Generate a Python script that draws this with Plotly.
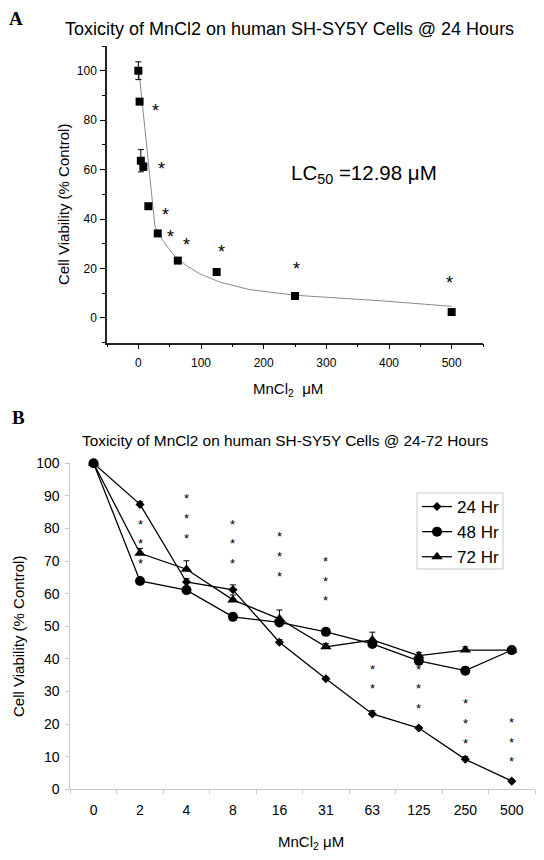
import plotly.graph_objects as go

W, H = 544, 860

# ---------------- Panel A data ----------------
conc_a = [0, 2, 4, 8, 16, 31, 63, 125, 250, 500]
via_a = [100, 87.5, 63.6, 61.2, 45.2, 34.2, 23.2, 18.6, 8.9, 2.4]
err_a = [3.6, 0.8, 4.5, 1.5, 1.0, 0.5, 1.0, 0.5, 0.8, 0.5]
fit_x = [1, 5.9, 12.3, 20.3, 26.6, 40, 54.7, 75, 97, 130, 177, 250, 390, 500]
fit_y = [100, 88, 74.6, 54.4, 36.9, 31, 26, 21.5, 18, 14.5, 11.5, 9.2, 6.9, 4.7]
star_ax = [26.6, 36.7, 43, 52, 76.6, 133.5, 253, 496]
star_ay = [85.2, 61.8, 43.3, 34.3, 31.2, 28.3, 21.6, 15.7]

# ---------------- Panel B data ----------------
cats_b = ["0", "2", "4", "8", "16", "31", "63", "125", "250", "500"]
v24 = [100, 87.4, 63.6, 61.2, 45.1, 33.9, 23.1, 18.8, 9.2, 2.5]
v48 = [100, 63.9, 61.1, 52.9, 51.2, 48.3, 44.6, 39.4, 36.4, 42.7]
v72 = [100, 72.4, 67.5, 58.1, 52.3, 43.7, 45.8, 41.0, 42.7, 42.7]
e24 = [0, 0.8, 1.0, 1.5, 0.8, 0.5, 1.0, 0.5, 0.8, 0.5]
e48 = [0, 0.5, 0.5, 0.5, 0.5, 0.5, 1.0, 0.8, 0.5, 0.5]
e72 = [0, 1.5, 2.6, 1.5, 2.7, 1.0, 2.4, 1.0, 1.0, 0.5]
star_bx = ["2", "2", "2", "4", "4", "4", "8", "8", "8", "16", "16", "16",
           "31", "31", "31", "63", "63", "125", "125", "125",
           "250", "250", "250", "500", "500", "500"]
star_by = [82.3, 76.3, 70.3, 90, 84, 77.9, 82.3, 76.3, 70.3, 78.5, 72.4, 66.3,
           70.9, 64.7, 58.8, 37.7, 31.7, 37.6, 31.7, 25.6,
           27.1, 21.1, 15.1, 21.3, 15.3, 9.3]

FONT = "Liberation Sans, Arial, sans-serif"
SERIF = "Liberation Serif, Times New Roman, serif"

fig = go.Figure()

# Panel A
fig.add_trace(go.Scatter(x=fit_x, y=fit_y, mode="lines", line=dict(color="#8a8a8a", width=1),
                         xaxis="x", yaxis="y", showlegend=False, hoverinfo="skip"))
fig.add_trace(go.Scatter(x=conc_a, y=via_a, mode="markers",
                         marker=dict(symbol="square", size=8, color="black"),
                         error_y=dict(type="data", array=err_a, color="black", thickness=1, width=3),
                         xaxis="x", yaxis="y", showlegend=False, cliponaxis=False))

# Panel B
fig.add_trace(go.Scatter(x=cats_b, y=v24, mode="lines+markers", name="24 Hr",
                         line=dict(color="black", width=1.3),
                         marker=dict(symbol="diamond", size=7, color="black"),
                         error_y=dict(type="data", array=e24, arrayminus=[0] * 10, symmetric=False,
                                      color="black", thickness=1, width=3),
                         xaxis="x2", yaxis="y2", cliponaxis=False))
fig.add_trace(go.Scatter(x=cats_b, y=v48, mode="lines+markers", name="48 Hr",
                         line=dict(color="black", width=1.3),
                         marker=dict(symbol="circle", size=10, color="black"),
                         error_y=dict(type="data", array=e48, arrayminus=[0] * 10, symmetric=False,
                                      color="black", thickness=1, width=3),
                         xaxis="x2", yaxis="y2", cliponaxis=False))
fig.add_trace(go.Scatter(x=cats_b, y=v72, mode="lines+markers", name="72 Hr",
                         line=dict(color="black", width=1.3),
                         marker=dict(symbol="triangle-up", size=10, color="black"),
                         error_y=dict(type="data", array=e72, arrayminus=[0] * 10, symmetric=False,
                                      color="black", thickness=1, width=3),
                         xaxis="x2", yaxis="y2", cliponaxis=False))

# page offset of the plot div (browser default body margin)
OX, OY = 8, 8


def px_x(p):
    return (p - OX) / W


def px_y(p):
    return 1 - (p - OY) / H


fig.update_layout(
    width=W, height=H,
    margin=dict(l=0, r=0, t=0, b=0, autoexpand=False),
    paper_bgcolor="white", plot_bgcolor="white",
    font=dict(family=FONT, color="black"),
    xaxis=dict(domain=[px_x(107), px_x(483)], anchor="y", range=[-50, 550], automargin=False,
               tickvals=[0, 100, 200, 300, 400, 500], ticks="outside", ticklen=5, tickwidth=1,
               minor=dict(tickvals=[-50, 50, 150, 250, 350, 450, 550], ticks="outside", ticklen=3,
                          tickcolor="black", tickwidth=1),
               showline=True, linecolor="#222", linewidth=1.5, showgrid=False, zeroline=False,
               tickfont=dict(size=12), tickcolor="black", ticklabelstandoff=3),
    yaxis=dict(domain=[px_y(342.7), px_y(46)], anchor="x", range=[-10, 110], automargin=False,
               tickvals=[0, 20, 40, 60, 80, 100], ticks="outside", ticklen=5, tickwidth=1,
               minor=dict(tickvals=[-10, 10, 30, 50, 70, 90, 110], ticks="outside", ticklen=3,
                          tickcolor="black", tickwidth=1),
               showline=True, linecolor="#222", linewidth=1.5, showgrid=False, zeroline=False,
               tickfont=dict(size=12), tickcolor="black", ticklabelstandoff=1),
    xaxis2=dict(domain=[px_x(70.3), px_x(535)], anchor="y2", type="category", automargin=False,
                categoryorder="array", categoryarray=cats_b, range=[-0.5, 9.5],
                ticks="outside", ticklen=4, tickcolor="#c8c8c8", tickson="boundaries",
                showline=True, linecolor="#c8c8c8", linewidth=1, showgrid=False, zeroline=False,
                tickfont=dict(size=14), ticklabelstandoff=8),
    yaxis2=dict(domain=[px_y(789.3), px_y(463.3)], anchor="x2", range=[0, 100], dtick=10, automargin=False,
                ticks="outside", ticklen=4, tickcolor="#c8c8c8",
                showline=True, linecolor="#c8c8c8", linewidth=1, showgrid=False, zeroline=False,
                tickfont=dict(size=14), ticklabelstandoff=3),
    legend=dict(x=px_x(417), y=px_y(489), xanchor="left", yanchor="top",
                borderwidth=0, bgcolor="rgba(0,0,0,0)",
                font=dict(size=17), tracegroupgap=0, itemwidth=30),
    shapes=[dict(type="rect", xref="paper", yref="paper",
                 x0=px_x(417), x1=px_x(503), y0=px_y(569), y1=px_y(493),
                 line=dict(color="#c8c8c8", width=1), fillcolor="rgba(0,0,0,0)", layer="above")],
)

ann = [
    dict(text="<b>A</b>", x=px_x(16), y=px_y(18), font=dict(family=SERIF, size=19)),
    dict(text="Toxicity of MnCl2 on human SH-SY5Y Cells @ 24 Hours", x=px_x(289), y=px_y(29), font=dict(size=18)),
    dict(text="LC<sub>50</sub> =12.98 μM", x=px_x(364), y=px_y(174), font=dict(size=20.5)),
    dict(text="Cell Viability (% Control)", x=px_x(63), y=px_y(205), textangle=-90, font=dict(size=15)),
    dict(text="MnCl<sub>2</sub>  μM", x=px_x(288), y=px_y(390), font=dict(size=15)),
    dict(text="<b>B</b>", x=px_x(18), y=px_y(417), font=dict(family=SERIF, size=19)),
    dict(text="Toxicity of MnCl2 on human SH-SY5Y Cells @ 24-72 Hours", x=px_x(285), y=px_y(441), font=dict(size=15.4)),
    dict(text="Cell Viability (% Control)", x=px_x(18), y=px_y(637), textangle=-90, font=dict(size=15)),
    dict(text="MnCl<sub>2</sub> μM", x=px_x(311), y=px_y(842), font=dict(size=15)),
]
for a in ann:
    a.update(xref="paper", yref="paper", showarrow=False, xanchor="center", yanchor="middle")
    a["font"]["color"] = "black"

# significance asterisks, placed on the data axes
for sx, sy in zip(star_ax, star_ay):
    ann.append(dict(text="*", x=sx, y=sy, xref="x", yref="y", showarrow=False,
                    xanchor="center", yanchor="middle", yshift=-4,
                    font=dict(size=18, color="black", family=FONT)))
for sx, sy in zip(star_bx, star_by):
    # annotations on a category axis take the category's index position
    ann.append(dict(text="*", x=cats_b.index(sx), y=sy, xref="x2", yref="y2", showarrow=False,
                    xanchor="center", yanchor="middle", yshift=-3,
                    font=dict(size=13, color="black", family=FONT)))

fig.update_layout(annotations=ann)

fig.write_html("out.html")
